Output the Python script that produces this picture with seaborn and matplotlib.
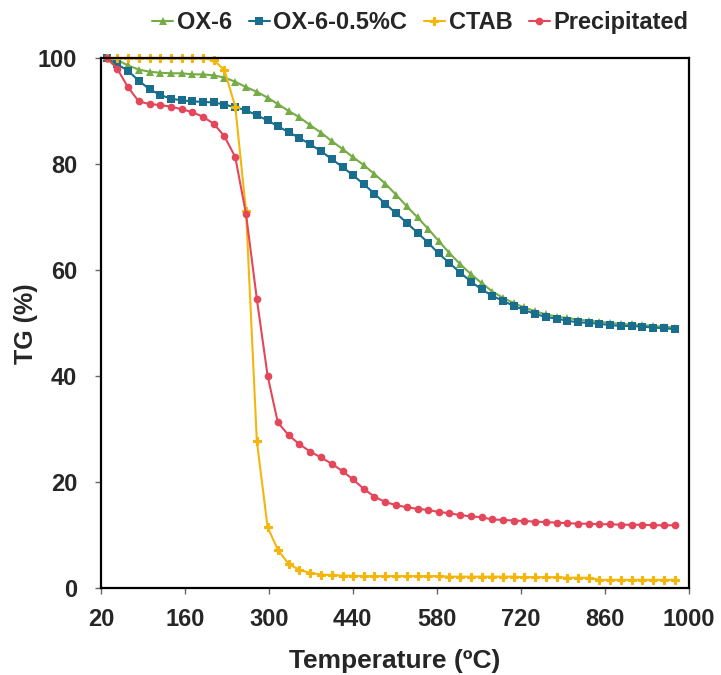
import matplotlib
matplotlib.use('Agg')
import matplotlib.pyplot as plt
import pandas as pd
import seaborn as sns

# Temperatures (ºC) at which TG was recorded
temps = [30, 47, 65, 83, 101, 119, 137, 155, 172, 190,
         208, 226, 244, 262, 280, 298, 315, 333, 351, 369,
         387, 405, 423, 440, 458, 476, 494, 512, 530, 548,
         566, 583, 601, 619, 637, 655, 673, 691, 709, 726,
         744, 762, 780, 798, 816, 834, 851, 869, 887, 905,
         923, 941, 959, 977]

# TG (%) for each sample
ox6 = [100, 99.7, 98.7, 97.9, 97.5, 97.3, 97.2, 97.2, 97.0, 97.0,
       96.8, 96.4, 95.6, 94.6, 93.7, 92.6, 91.4, 90.1, 88.9, 87.4,
       86.0, 84.4, 82.9, 81.4, 79.9, 78.2, 76.4, 74.3, 72.1, 70.0,
       67.8, 65.6, 63.3, 61.2, 59.3, 57.6, 56.0, 54.8, 53.8, 53.0,
       52.3, 51.7, 51.3, 51.0, 50.7, 50.5, 50.3, 50.1, 49.9, 49.8,
       49.7, 49.5, 49.4, 49.2]
ox6_c = [100, 98.9, 97.7, 95.8, 94.2, 93.1, 92.4, 92.1, 91.9, 91.8,
         91.7, 91.3, 90.8, 90.2, 89.3, 88.3, 87.2, 86.1, 85.0, 83.8,
         82.5, 81.0, 79.5, 78.0, 76.3, 74.5, 72.6, 70.8, 69.0, 67.1,
         65.2, 63.2, 61.4, 59.6, 57.9, 56.4, 55.2, 54.2, 53.3, 52.5,
         51.8, 51.2, 50.9, 50.5, 50.2, 50.1, 49.9, 49.7, 49.5, 49.5,
         49.4, 49.2, 49.1, 48.9]
ctab = [100, 100, 100, 100, 100, 100, 100, 100, 100, 100,
        99.7, 97.8, 90.9, 71.2, 27.8, 11.5, 7.3, 4.6, 3.5, 2.9,
        2.6, 2.5, 2.4, 2.4, 2.3, 2.3, 2.3, 2.3, 2.3, 2.3,
        2.3, 2.3, 2.2, 2.2, 2.2, 2.2, 2.2, 2.2, 2.2, 2.1,
        2.1, 2.1, 2.1, 2.0, 2.0, 2.0, 1.6, 1.6, 1.6, 1.6,
        1.6, 1.6, 1.6, 1.6]
precip = [100, 98.1, 94.6, 91.9, 91.4, 91.2, 90.9, 90.4, 89.9, 89.0,
          87.7, 85.3, 81.4, 70.6, 54.6, 40.1, 31.3, 28.9, 27.2, 25.8,
          24.7, 23.5, 22.1, 20.6, 18.8, 17.3, 16.3, 15.7, 15.3, 15.0,
          14.8, 14.4, 14.2, 13.8, 13.6, 13.4, 13.0, 12.9, 12.8, 12.7,
          12.6, 12.5, 12.4, 12.3, 12.2, 12.2, 12.1, 12.1, 12.0, 12.0,
          12.0, 11.9, 11.9, 11.9]

x_ticks = [20, 160, 300, 440, 580, 720, 860, 1000]
y_ticks = [0, 20, 40, 60, 80, 100]

sns.set_style('white')
plt.rcParams['font.family'] = ['Liberation Sans', 'DejaVu Sans']
plt.rcParams['font.weight'] = 'bold'

df = pd.DataFrame({'Temperature': temps, 'OX-6': ox6, 'OX-6-0.5%C': ox6_c,
                   'CTAB': ctab, 'Precipitated': precip})

# name, colour, marker, marker size, marker edge
series = [
    ('OX-6', '#76AC45', '^', 6, 0),
    ('OX-6-0.5%C', '#196E8E', 's', 5.5, 0),
    ('CTAB', '#F4B60C', 'P', 5.5, 0.8),
    ('Precipitated', '#E4465A', 'o', 5.5, 0),
]

fig = plt.figure(figsize=(7.21, 6.75), dpi=100)
ax = fig.add_axes([0.140, 0.1284, 0.815, 0.785])

for name, color, marker, ms, mew in series:
    sns.lineplot(data=df, x='Temperature', y=name, ax=ax, color=color, marker=marker,
                 markersize=ms, markeredgewidth=mew, markeredgecolor=color,
                 linewidth=1.5, label=name, clip_on=False)

ax.set_xlim(20, 1000)
ax.set_ylim(0, 100)
ax.set_xticks(x_ticks)
ax.set_yticks(y_ticks)
ax.tick_params(axis='both', labelsize=17, direction='out', length=4, width=1, color='#666666',
               bottom=True, left=True)
ax.tick_params(axis='x', pad=10)
ax.tick_params(axis='y', pad=13)
for lab in ax.get_xticklabels() + ax.get_yticklabels():
    lab.set_fontweight('bold')
for sp in ax.spines.values():
    sp.set_color('black')
    sp.set_linewidth(1.6)

ax.set_xlabel('Temperature (ºC)', fontsize=19, fontweight='bold', labelpad=13)
ax.set_ylabel('TG (%)', fontsize=18, fontweight='bold', labelpad=0)

handles, labels = ax.get_legend_handles_labels()
ax.get_legend().remove()
fig.legend(handles, labels, loc='center', bbox_to_anchor=(0.583, 0.966), ncol=4, frameon=False,
           prop={'size': 17, 'weight': 'bold'}, handlelength=0.9, handletextpad=0.15,
           columnspacing=0.7)

plt.savefig('out.png', dpi=100)
plt.close()
